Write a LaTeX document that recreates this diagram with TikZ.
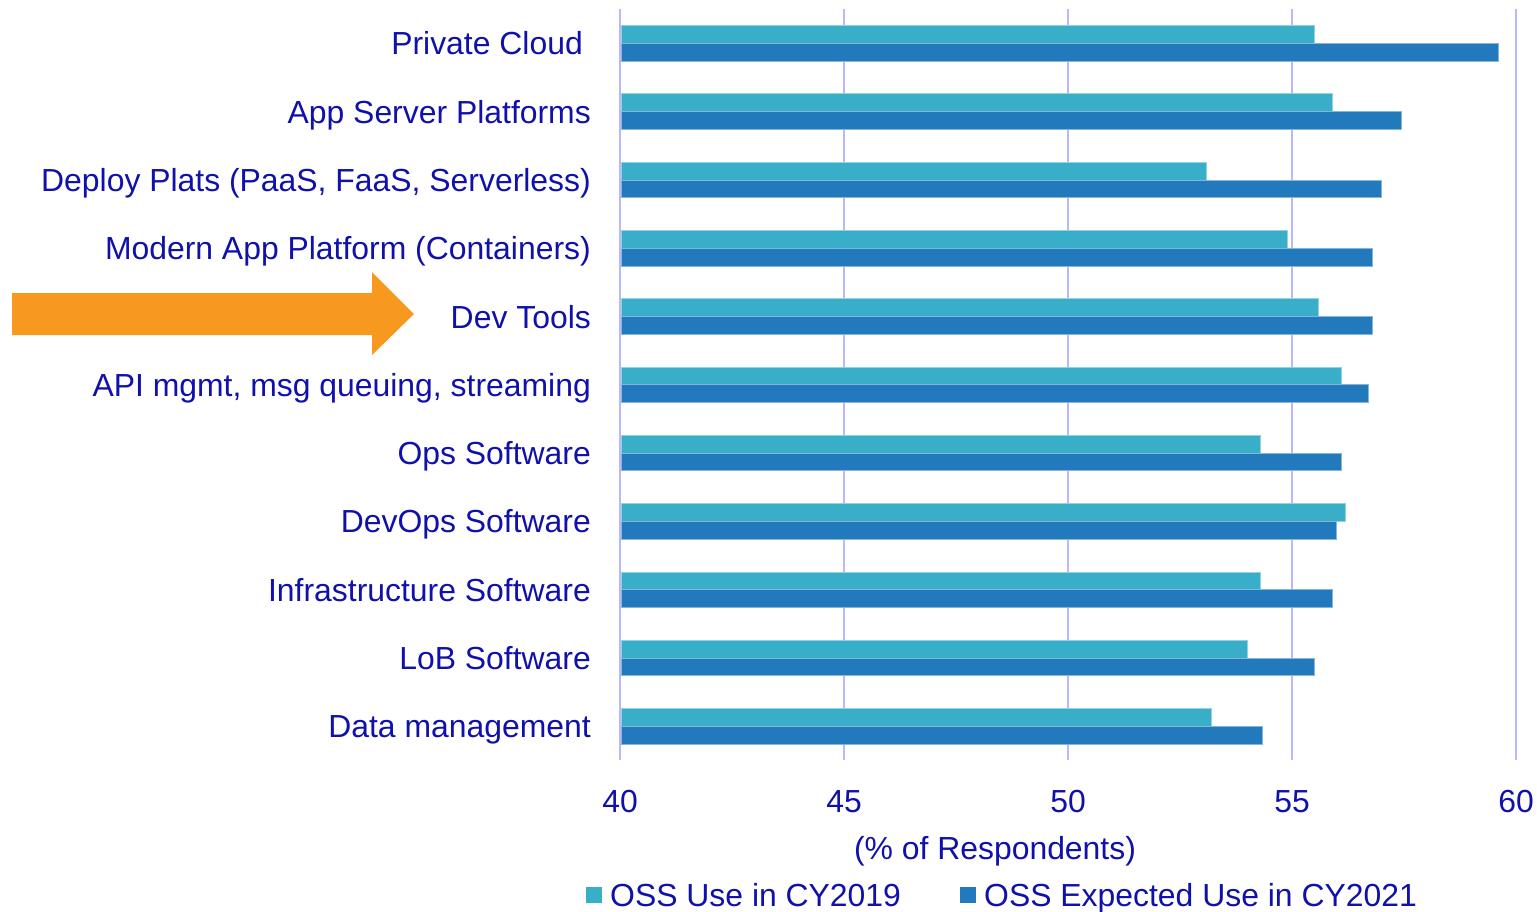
\documentclass[tikz,border=0pt]{standalone}
\usepackage{fontspec}
\setsansfont{Liberation Sans}
\RequirePackage{xcolor}
\definecolor{labelblue}{RGB}{16,16,170}
\definecolor{use19}{RGB}{56,174,200}
\definecolor{use21}{RGB}{34,121,188}
\definecolor{gridlav}{RGB}{184,184,250}
\definecolor{arroworange}{RGB}{247,153,31}
\tikzset{every picture/.style={/utils/exec={\sffamily}}}
\usetikzlibrary{calc}
\usetikzlibrary{positioning}

\tikzset{
  lbl/.style={text=labelblue, font=\fontsize{31.9}{36}\selectfont, inner sep=0pt},
  bar19/.style={fill=use19, draw=use19!55!white, line width=0.8pt},
  bar21/.style={fill=use21, draw=use21!55!white, line width=0.8pt},
}

\begin{document}
\begin{tikzpicture}[x=1pt, y=-1pt]
  \useasboundingbox (0,0) rectangle (1537,911);

  \foreach \v in {40,45,...,60} {
    \draw [gridlav, line width=2pt] ({620+44.8*(\v-40)},9) -- ({620+44.8*(\v-40)},760);
    \node [lbl, anchor=base] (tick\v) at ({620+44.8*(\v-40)},812) {\v};
  }

  \foreach \name/\a/\b [count=\i from 0] in {
      {Private Cloud\kern8pt}/55.5/59.6,
      {App Server Platforms}/55.9/57.45,
      {Deploy Plats (PaaS, FaaS, Serverless)}/53.1/57.0,
      {Modern App Platform (Containers)}/54.9/56.8,
      {Dev Tools}/55.6/56.8,
      {API mgmt, msg queuing, streaming}/56.1/56.7,
      {Ops Software}/54.3/56.1,
      {DevOps Software}/56.2/56.0,
      {Infrastructure Software}/54.3/55.9,
      {LoB Software}/54.0/55.5,
      {Data management}/53.2/54.35} {
    \draw [bar19] (621,{25.5+68.3*\i}) rectangle ({620+44.8*(\a-40)},{43.3+68.3*\i});
    \draw [bar21] (621,{43.3+68.3*\i}) rectangle ({620+44.8*(\b-40)},{61+68.3*\i});
    \node [lbl, anchor=base east] (cat\i) at (591,{54.8+68.3*\i}) {\name};
  }

  \node [lbl, anchor=base] (xtitle) at (995,859) {(\% of Respondents)};

  \fill [use19] (586,887) rectangle (602,903);
  \node [lbl, anchor=base west] (leg19) at (610,906) {OSS Use in CY2019};
  \fill [use21] (960,887) rectangle (976,903);
  \node [lbl, anchor=base west] (leg21) at (984,906) {OSS Expected Use in CY2021};

  \fill [arroworange] (12,293) -- (372,293) -- (372,272) -- (414,314)
    -- (372,355) -- (372,335) -- (12,335) -- cycle;

\end{tikzpicture}
\end{document}
